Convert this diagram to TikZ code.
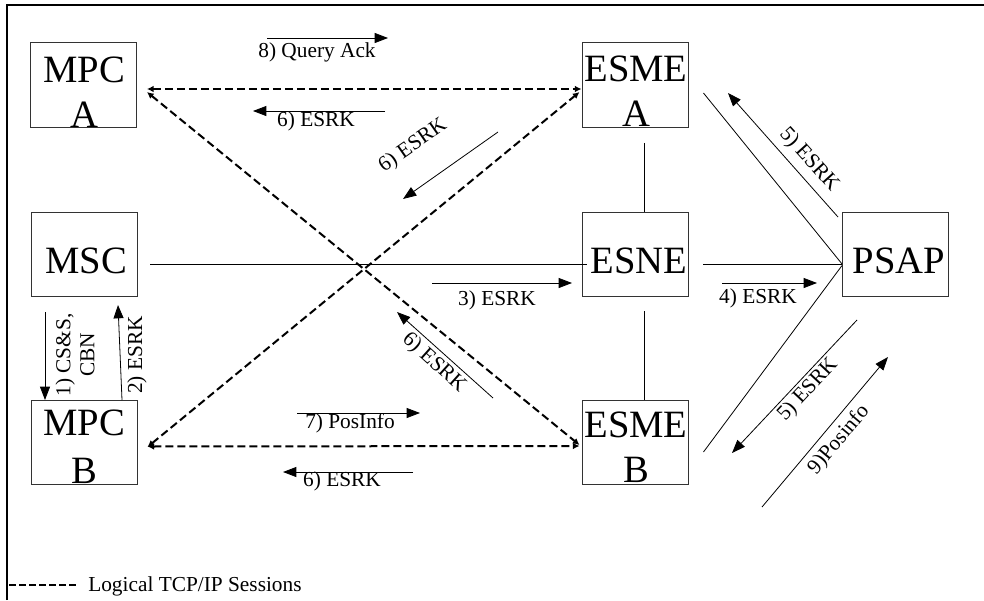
\documentclass[tikz,border=0pt]{standalone}
\usepackage{fontspec}
\setmainfont{Liberation Serif}
\usetikzlibrary{arrows.meta}
\begin{document}
\begin{tikzpicture}[x=0.75pt,y=-0.75pt,
  box/.style={draw=black!80, line width=0.7pt, minimum width=79.5pt, minimum height=63.5pt, inner sep=0pt},
  big/.style={font=\fontsize{29}{29}\selectfont, inner sep=0pt, anchor=base},
  lbl/.style={font=\fontsize{16}{18}\selectfont, inner sep=0pt},
  sess/.style={dash pattern=on 6pt off 3pt, line width=1.5pt, {Latex[length=5pt,width=5pt]}-{Latex[length=5pt,width=5pt]}},
  link/.style={line width=0.6pt},
  msg/.style={line width=0.6pt, -{Triangle[length=10pt,width=7.5pt]}},
]
\useasboundingbox (0,0) rectangle (984,600);
% frame (top and left only)
\draw[line width=1.6pt] (7,600) -- (7,5) -- (984,5);

% boxes
\node[box] (mpca)  at (83.5,85)    {};
\node[box] (esmea) at (635,85)     {};
\node[box] (msc)   at (84,254.5)   {};
\node[box] (esne)  at (635,254.5)  {};
\node[box] (psap)  at (895.5,254.5){};
\node[box] (mpcb)  at (84,442.5)   {};
\node[box] (esmeb) at (635,442.5)  {};

% box texts
\node[big] (mpcaT1)  at (84,82)   {MPC};
\node[big] (mpcaT2)  at (84,127)  {A};
\node[big] (esmeaT1) at (636,81)  {ESME};
\node[big] (esmeaT2) at (636,126) {A};
\node[big] (mscT)    at (86,273)  {MSC};
\node[big] (esneT)   at (639,273) {ESNE};
\node[big] (psapT)   at (899,273) {PSAP};
\node[big] (mpcbT1)  at (84,435)  {MPC};
\node[big] (mpcbT2)  at (84,483)  {B};
\node[big] (esmebT1) at (636,437) {ESME};
\node[big] (esmebT2) at (636,482) {B};

% logical TCP/IP sessions (dashed)
\draw[sess] ([shift={(10,4)}]mpca.east) -- ([shift={(0,4)}]esmea.west);
\draw[sess] ([shift={(10,7)}]mpca.east) -- ([shift={(-2,2.5)}]esmeb.west);
\draw[sess] ([shift={(10,4.5)}]mpcb.east) -- ([shift={(-2,7)}]esmea.west);
\draw[sess] ([shift={(10,4)}]mpcb.east) -- ([shift={(-2,3.5)}]esmeb.west);

% physical links
\draw[link] ([shift={(13,9.5)}]msc.east) -- ([shift={(5,9.5)}]esne.west);
\draw[link] ([shift={(15,9.5)}]esne.east) -- ([shift={(0,9.5)}]psap.west);
\draw[link] ([shift={(9,15)}]esmea.south) -- ([shift={(9,0)}]esne.north);
\draw[link] ([shift={(9,14)}]esne.south) -- ([shift={(9,0)}]esmeb.north);
\draw[link] ([shift={(15,8)}]esmea.east) -- ([shift={(0,9.5)}]psap.west);
\draw[link] ([shift={(15,9.5)}]esmeb.east) -- ([shift={(0,11)}]psap.west);

% message arrows
\coordinate (m8a) at (267,38);  \coordinate (m8b) at (388,38);
\draw[msg] (m8a) -- (m8b);
\node[lbl] (l8) at (317,52) {8) Query Ack};

\coordinate (m6a) at (385,111); \coordinate (m6b) at (253,111);
\draw[msg] (m6a) -- (m6b);
\node[lbl] (l6a) at (316,121) {6) ESRK};

\coordinate (m6c) at (498,132); \coordinate (m6d) at (403,199);
\draw[msg] (m6c) -- (m6d);
\node[lbl, rotate=35] (l6b) at (413,146) {6) ESRK};

\coordinate (m3a) at (432,283); \coordinate (m3b) at (572,283);
\draw[msg] (m3a) -- (m3b);
\node[lbl] (l3) at (497,300) {3) ESRK};

\coordinate (m4a) at (722,283); \coordinate (m4b) at (817,283);
\draw[msg] (m4a) -- (m4b);
\node[lbl] (l4) at (758,298) {4) ESRK};

\coordinate (m6e) at (493,398); \coordinate (m6f) at (397,312);
\draw[msg] (m6e) -- (m6f);
\node[lbl, rotate=-42] (l6c) at (434,363) {6) ESRK};

\coordinate (m1a) at (45,312); \coordinate (m1b) at (45,400);
\draw[msg] (m1a) -- (m1b);
\node[lbl, rotate=90, align=center] (l1) at (75,355) {1) CS\&S,\\CBN};

\coordinate (m2a) at (122,400); \coordinate (m2b) at (118,305);
\draw[msg] (m2a) -- (m2b);
\node[lbl, rotate=90] (l2) at (137,355) {2) ESRK};

\coordinate (m7a) at (297,413); \coordinate (m7b) at (420,413);
\draw[msg] (m7a) -- (m7b);
\node[lbl] (l7) at (350,423) {7) PosInfo};

\coordinate (m6g) at (413,472); \coordinate (m6h) at (283,472);
\draw[msg] (m6g) -- (m6h);
\node[lbl] (l6d) at (342,481) {6) ESRK};

\coordinate (m5a) at (838,217); \coordinate (m5b) at (728,93);
\draw[msg] (m5a) -- (m5b);
\node[lbl, rotate=-48] (l5a) at (809,160) {5) ESRK};

\coordinate (m5c) at (857,320); \coordinate (m5d) at (732,453);
\draw[msg] (m5c) -- (m5d);
\node[lbl, rotate=47] (l5b) at (808,390) {5) ESRK};

\coordinate (m9a) at (762,507); \coordinate (m9b) at (888,357);
\draw[msg] (m9a) -- (m9b);
\node[lbl, rotate=50] (l9) at (839,440) {9)Posinfo};

% legend
\coordinate (lg1) at (9,585); \coordinate (lg2) at (78,585);
\draw[dash pattern=on 5pt off 2.5pt, line width=1.5pt] (lg1) -- (lg2);
\node[lbl, anchor=west] (lgT) at (88,586) {Logical TCP/IP Sessions};
\end{tikzpicture}
\end{document}
